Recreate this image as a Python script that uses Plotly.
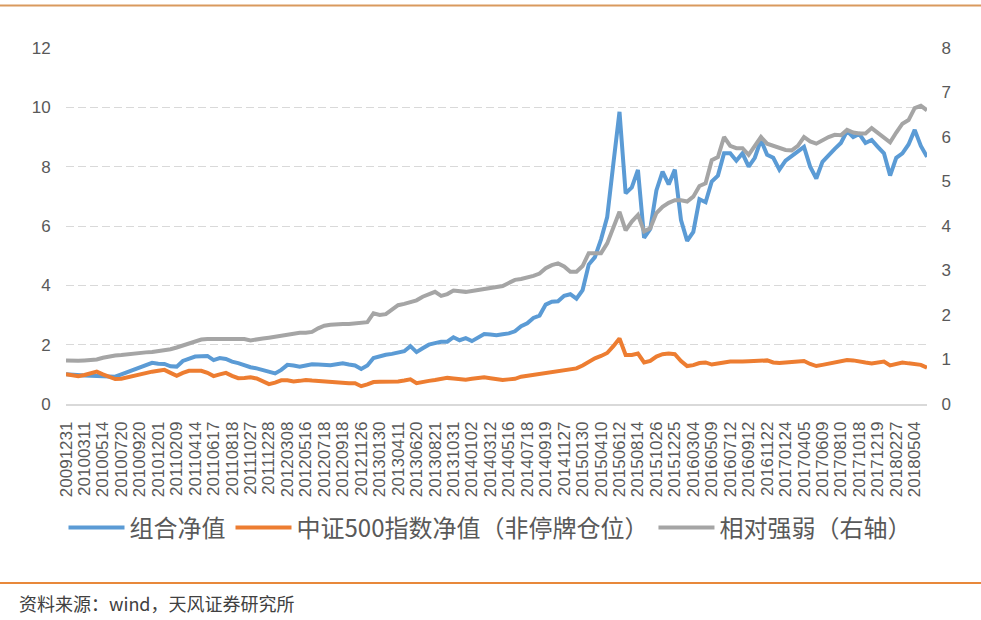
import plotly.graph_objects as go

# ---- data (sampled ~3 points per labelled interval) ----
tick_labels = [
    "20091231", "20100311", "20100514", "20100720", "20100920", "20101201",
    "20110209", "20110414", "20110617", "20110818", "20111027", "20111228",
    "20120308", "20120516", "20120718", "20120918", "20121126", "20130130",
    "20130411", "20130620", "20130821", "20131031", "20140102", "20140312",
    "20140516", "20140718", "20140919", "20141127", "20150130", "20150410",
    "20150612", "20150814", "20151026", "20151225", "20160304", "20160509",
    "20160712", "20160912", "20161122", "20170124", "20170405", "20170609",
    "20170810", "20171018", "20171219", "20180227", "20180504",
]

portfolio_nav = [
    1.00, 0.98, 0.95, 0.96, 0.95, 0.94, 0.95, 0.93, 0.92, 1.00, 1.08, 1.16,
    1.25, 1.32, 1.39, 1.36, 1.35, 1.27, 1.26, 1.45, 1.52, 1.60, 1.61, 1.62,
    1.48, 1.55, 1.52, 1.43, 1.38, 1.30, 1.24, 1.20, 1.15, 1.08, 1.03, 1.15,
    1.32, 1.30, 1.26, 1.30, 1.34, 1.33, 1.32, 1.31, 1.34, 1.37, 1.33, 1.30,
    1.18, 1.30, 1.55, 1.62, 1.66, 1.69, 1.72, 1.78, 1.95, 1.75, 1.88, 2.00,
    2.05, 2.10, 2.10, 2.25, 2.15, 2.22, 2.12, 2.25, 2.36, 2.34, 2.32, 2.35,
    2.38, 2.45, 2.62, 2.72, 2.90, 2.98, 3.35, 3.45, 3.46, 3.65, 3.70, 3.55,
    3.84, 4.70, 4.95, 5.55, 6.30, 8.10, 9.85, 7.10, 7.30, 7.89, 5.60, 5.90,
    7.20, 7.83, 7.40, 7.90, 6.20, 5.50, 5.80, 6.90, 6.80, 7.50, 7.70, 8.45,
    8.45, 8.20, 8.45, 8.00, 8.30, 8.90, 8.40, 8.30, 7.90, 8.20, 8.35, 8.50,
    8.67, 8.00, 7.60, 8.16, 8.40, 8.60, 8.80, 9.20, 9.00, 9.10, 8.80, 8.90,
    8.67, 8.45, 7.70, 8.30, 8.45, 8.75, 9.24, 8.70, 8.33,
]

csi500_nav = [
    1.00, 0.98, 0.94, 0.98, 1.04, 1.09, 1.00, 0.92, 0.84, 0.85, 0.90, 0.96,
    1.00, 1.05, 1.09, 1.12, 1.15, 1.05, 0.95, 1.05, 1.12, 1.12, 1.12, 1.05,
    0.94, 1.00, 1.05, 0.95, 0.87, 0.88, 0.90, 0.86, 0.78, 0.67, 0.72, 0.80,
    0.80, 0.76, 0.78, 0.81, 0.79, 0.77, 0.75, 0.73, 0.72, 0.71, 0.70, 0.70,
    0.60, 0.66, 0.74, 0.75, 0.75, 0.76, 0.76, 0.79, 0.83, 0.70, 0.75, 0.78,
    0.81, 0.84, 0.88, 0.86, 0.84, 0.82, 0.85, 0.89, 0.90, 0.87, 0.84, 0.81,
    0.83, 0.85, 0.92, 0.95, 0.98, 1.02, 1.04, 1.08, 1.10, 1.13, 1.18, 1.20,
    1.30, 1.42, 1.54, 1.62, 1.72, 1.95, 2.21, 1.65, 1.65, 1.70, 1.40, 1.45,
    1.60, 1.68, 1.70, 1.68, 1.45, 1.28, 1.31, 1.38, 1.40, 1.33, 1.38, 1.40,
    1.43, 1.42, 1.43, 1.44, 1.46, 1.47, 1.47, 1.40, 1.38, 1.40, 1.42, 1.44,
    1.45, 1.35, 1.28, 1.32, 1.36, 1.40, 1.45, 1.48, 1.47, 1.45, 1.40, 1.37,
    1.40, 1.43, 1.30, 1.35, 1.40, 1.37, 1.35, 1.32, 1.22,
]

relative_strength = [
    0.98, 0.97, 0.97, 0.98, 0.99, 1.00, 1.04, 1.07, 1.09, 1.10, 1.12, 1.13,
    1.14, 1.16, 1.17, 1.19, 1.20, 1.23, 1.27, 1.31, 1.36, 1.41, 1.45, 1.46,
    1.46, 1.46, 1.47, 1.47, 1.48, 1.46, 1.43, 1.44, 1.47, 1.49, 1.51, 1.53,
    1.55, 1.59, 1.60, 1.60, 1.62, 1.70, 1.76, 1.78, 1.80, 1.80, 1.80, 1.81,
    1.82, 1.84, 2.04, 2.00, 2.02, 2.12, 2.22, 2.25, 2.29, 2.33, 2.41, 2.47,
    2.52, 2.43, 2.47, 2.55, 2.53, 2.52, 2.54, 2.56, 2.57, 2.60, 2.62, 2.65,
    2.72, 2.79, 2.81, 2.84, 2.88, 2.93, 3.05, 3.12, 3.16, 3.09, 2.97, 2.97,
    3.10, 3.39, 3.38, 3.39, 3.61, 3.95, 4.32, 3.90, 4.10, 4.25, 3.88, 3.95,
    4.29, 4.43, 4.52, 4.58, 4.58, 4.55, 4.66, 4.90, 4.96, 5.48, 5.55, 6.00,
    5.80, 5.75, 5.75, 5.60, 5.80, 6.00, 5.85, 5.80, 5.75, 5.71, 5.70, 5.80,
    6.00, 5.90, 5.85, 5.93, 6.00, 6.05, 6.04, 6.16, 6.10, 6.08, 6.08, 6.20,
    6.10, 6.00, 5.88, 6.10, 6.30, 6.38, 6.65, 6.70, 6.60,
]

series_names = ["组合净值", "中证500指数净值（非停牌仓位）", "相对强弱（右轴）"]
series_colors = ["#5B9BD5", "#ED7D31", "#A5A5A5"]

# ---- figure ----
n = len(portfolio_nav)
x = list(range(n))
per_label = 3
tickvals = x[::per_label][:len(tick_labels)]

fig = go.Figure()
fig.add_trace(go.Scatter(x=x, y=portfolio_nav, name=series_names[0], mode="lines",
                         line=dict(color=series_colors[0], width=4), yaxis="y"))
fig.add_trace(go.Scatter(x=x, y=csi500_nav, name=series_names[1], mode="lines",
                         line=dict(color=series_colors[1], width=4), yaxis="y"))
fig.add_trace(go.Scatter(x=x, y=relative_strength, name=series_names[2], mode="lines",
                         line=dict(color=series_colors[2], width=4), yaxis="y2"))

tick_font = dict(family="Liberation Sans, Arial, sans-serif", size=17, color="#595959")

W, H = 981, 620
ml, mr, mt, mb = 66, 54, 48, 216
pw, ph = W - ml - mr, H - mt - mb

def px_x(p):
    return (p - ml) / pw

def px_y(p):
    return (H - mb - p) / ph

fig.update_layout(
    width=W, height=H,
    margin=dict(l=ml, r=mr, t=mt, b=mb, pad=0),
    paper_bgcolor="white", plot_bgcolor="white",
    showlegend=True,
    xaxis=dict(
        range=[0, n - 1], tickmode="array", tickvals=tickvals, ticktext=tick_labels,
        tickangle=-90, tickfont=tick_font, showgrid=False, zeroline=False,
        showline=True, linecolor="#D9D9D9", linewidth=1.5,
        ticks="outside", ticklen=9, tickcolor="rgba(0,0,0,0)",
    ),
    yaxis=dict(
        range=[0, 12], dtick=2, tickfont=tick_font, showgrid=True,
        gridcolor="#D9D9D9", griddash="8px,4px", gridwidth=1, zeroline=False,
        ticks="outside", ticklen=11, tickcolor="rgba(0,0,0,0)",
    ),
    yaxis2=dict(
        range=[0, 8], dtick=1, tickfont=tick_font, showgrid=False, zeroline=False,
        overlaying="y", side="right",
        ticks="outside", ticklen=10, tickcolor="rgba(0,0,0,0)",
    ),
    legend=dict(
        orientation="h", x=px_x(490), xanchor="center", y=px_y(528), yanchor="middle",
        font=dict(family="Noto Sans CJK SC", size=24, color="#595959"),
        itemwidth=56, bgcolor="rgba(0,0,0,0)", traceorder="normal",
    ),
    shapes=[
        dict(type="line", xref="paper", yref="paper", x0=px_x(0), x1=px_x(W),
             y0=px_y(5.5), y1=px_y(5.5), line=dict(color="#D99A5E", width=2)),
        dict(type="line", xref="paper", yref="paper", x0=px_x(0), x1=px_x(W),
             y0=px_y(583), y1=px_y(583), line=dict(color="#E8883A", width=2)),
    ],
    annotations=[
        dict(text="资料来源：wind，天风证券研究所", xref="paper", yref="paper",
             x=px_x(17), y=px_y(603), xanchor="left", yanchor="middle",
             showarrow=False,
             font=dict(family="Noto Sans CJK SC", size=18, color="#404040")),
    ],
)

fig.write_html("out.html")
